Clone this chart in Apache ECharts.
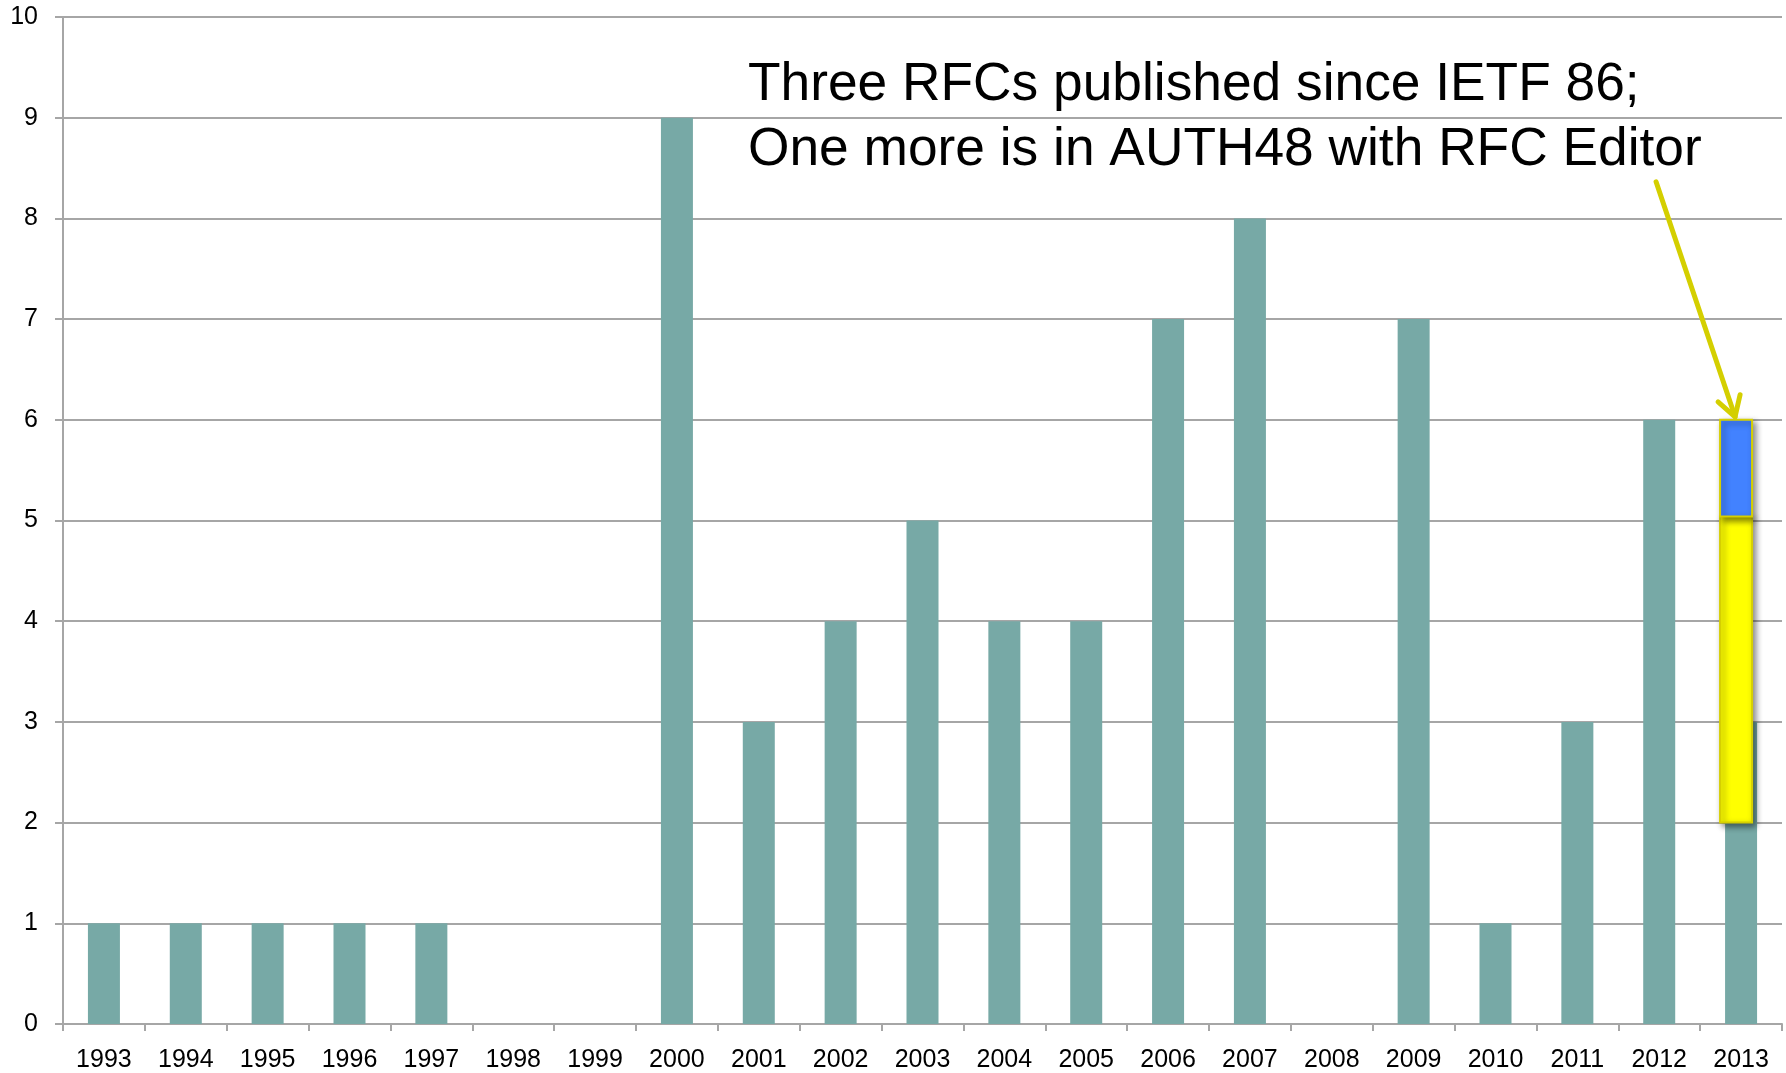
<!DOCTYPE html>
<html>
<head>
<meta charset="utf-8">
<script src="https://cdn.jsdelivr.net/npm/echarts@6/dist/echarts.min.js"></script>
<style>
html,body{margin:0;padding:0;background:#fff;}
#chart{width:1786px;height:1073px;}
</style>
</head>
<body>
<div id="chart"></div>
<script>
const years = ['1993','1994','1995','1996','1997','1998','1999','2000','2001','2002','2003','2004','2005','2006','2007','2008','2009','2010','2011','2012','2013'];
const rfcCounts = [1,1,1,1,1,0,0,9,3,4,5,4,4,7,8,0,7,1,3,6,3];
const yTicks = [0,1,2,3,4,5,6,7,8,9,10];
// highlighted 2013 overlay: [year, from, to]
const publishedRange = [['2013', 2, 5.04]];
const auth48Range = [['2013', 5.04, 6]];
const noteLines = ['Three RFCs published since IETF 86;', 'One more is in AUTH48 with RFC Editor'];

const FONT = '"Liberation Sans", Arial, Helvetica, sans-serif';
const chart = echarts.init(document.getElementById('chart'));

function rangeRenderer(fill) {
  return function (params, api) {
    const top = api.coord([api.value(0), api.value(2)]);
    const bot = api.coord([api.value(0), api.value(1)]);
    const w = 32;
    return {
      type: 'rect',
      shape: { x: top[0] - w / 2 - 5, y: top[1], width: w, height: bot[1] - top[1] },
      style: {
        fill: fill, stroke: '#d6cf00', lineWidth: 2,
        shadowBlur: 6, shadowColor: 'rgba(0,0,0,0.45)', shadowOffsetX: 3, shadowOffsetY: 3
      }
    };
  };
}

chart.setOption({
  backgroundColor: '#ffffff',
  animation: false,
  grid: { left: 63, right: 4, top: 17, bottom: 49, containLabel: false },
  xAxis: {
    type: 'category',
    data: years,
    boundaryGap: true,
    axisLine: { show: true, lineStyle: { color: '#a6a6a6', width: 2 } },
    axisTick: { show: true, length: 7, alignWithLabel: false, lineStyle: { color: '#a6a6a6', width: 2 } },
    axisLabel: { color: '#000', fontSize: 25, fontFamily: FONT, margin: 24, interval: 0 }
  },
  yAxis: {
    type: 'value',
    min: yTicks[0],
    max: yTicks[yTicks.length - 1],
    interval: 1,
    axisLine: { show: true, lineStyle: { color: '#a6a6a6', width: 2 } },
    axisTick: { show: true, length: 8, lineStyle: { color: '#a6a6a6', width: 2 } },
    axisLabel: { color: '#000', fontSize: 25, fontFamily: FONT, margin: 25 },
    splitLine: { show: true, lineStyle: { color: '#a6a6a6', width: 2 } }
  },
  series: [
    {
      type: 'bar',
      data: rfcCounts,
      barWidth: 32,
      itemStyle: { color: '#77a9a6' },
      z: 2
    },
    {
      type: 'custom',
      data: publishedRange,
      encode: { x: 0, y: [1, 2] },
      renderItem: rangeRenderer('#ffff00'),
      z: 5
    },
    {
      type: 'custom',
      data: auth48Range,
      encode: { x: 0, y: [1, 2] },
      renderItem: rangeRenderer('#4282ff'),
      z: 6
    }
  ]
});

const tip = chart.convertToPixel({ xAxisIndex: 0, yAxisIndex: 0 }, [auth48Range[0][0], auth48Range[0][2]]);
const tx = tip[0] - 6, ty = tip[1] - 3;
const arrowColor = '#d4cf00';
chart.setOption({
  graphic: [
    { type: 'text', x: 748, y: 85, style: { text: noteLines[0], font: '53.3px ' + FONT, fill: '#000', verticalAlign: 'middle' } },
    { type: 'text', x: 748, y: 150, style: { text: noteLines[1], font: '53.3px ' + FONT, fill: '#000', verticalAlign: 'middle' } },
    { type: 'line', shape: { x1: tx - 79, y1: ty - 235, x2: tx, y2: ty }, style: { stroke: arrowColor, lineWidth: 5, lineCap: 'round' }, z: 10 },
    { type: 'polyline', shape: { points: [[tx - 17, ty - 15], [tx, ty], [tx + 5, ty - 22]] }, style: { stroke: arrowColor, lineWidth: 5, lineCap: 'round', lineJoin: 'round', fill: null }, z: 10 }
  ]
});
</script>
</body>
</html>
